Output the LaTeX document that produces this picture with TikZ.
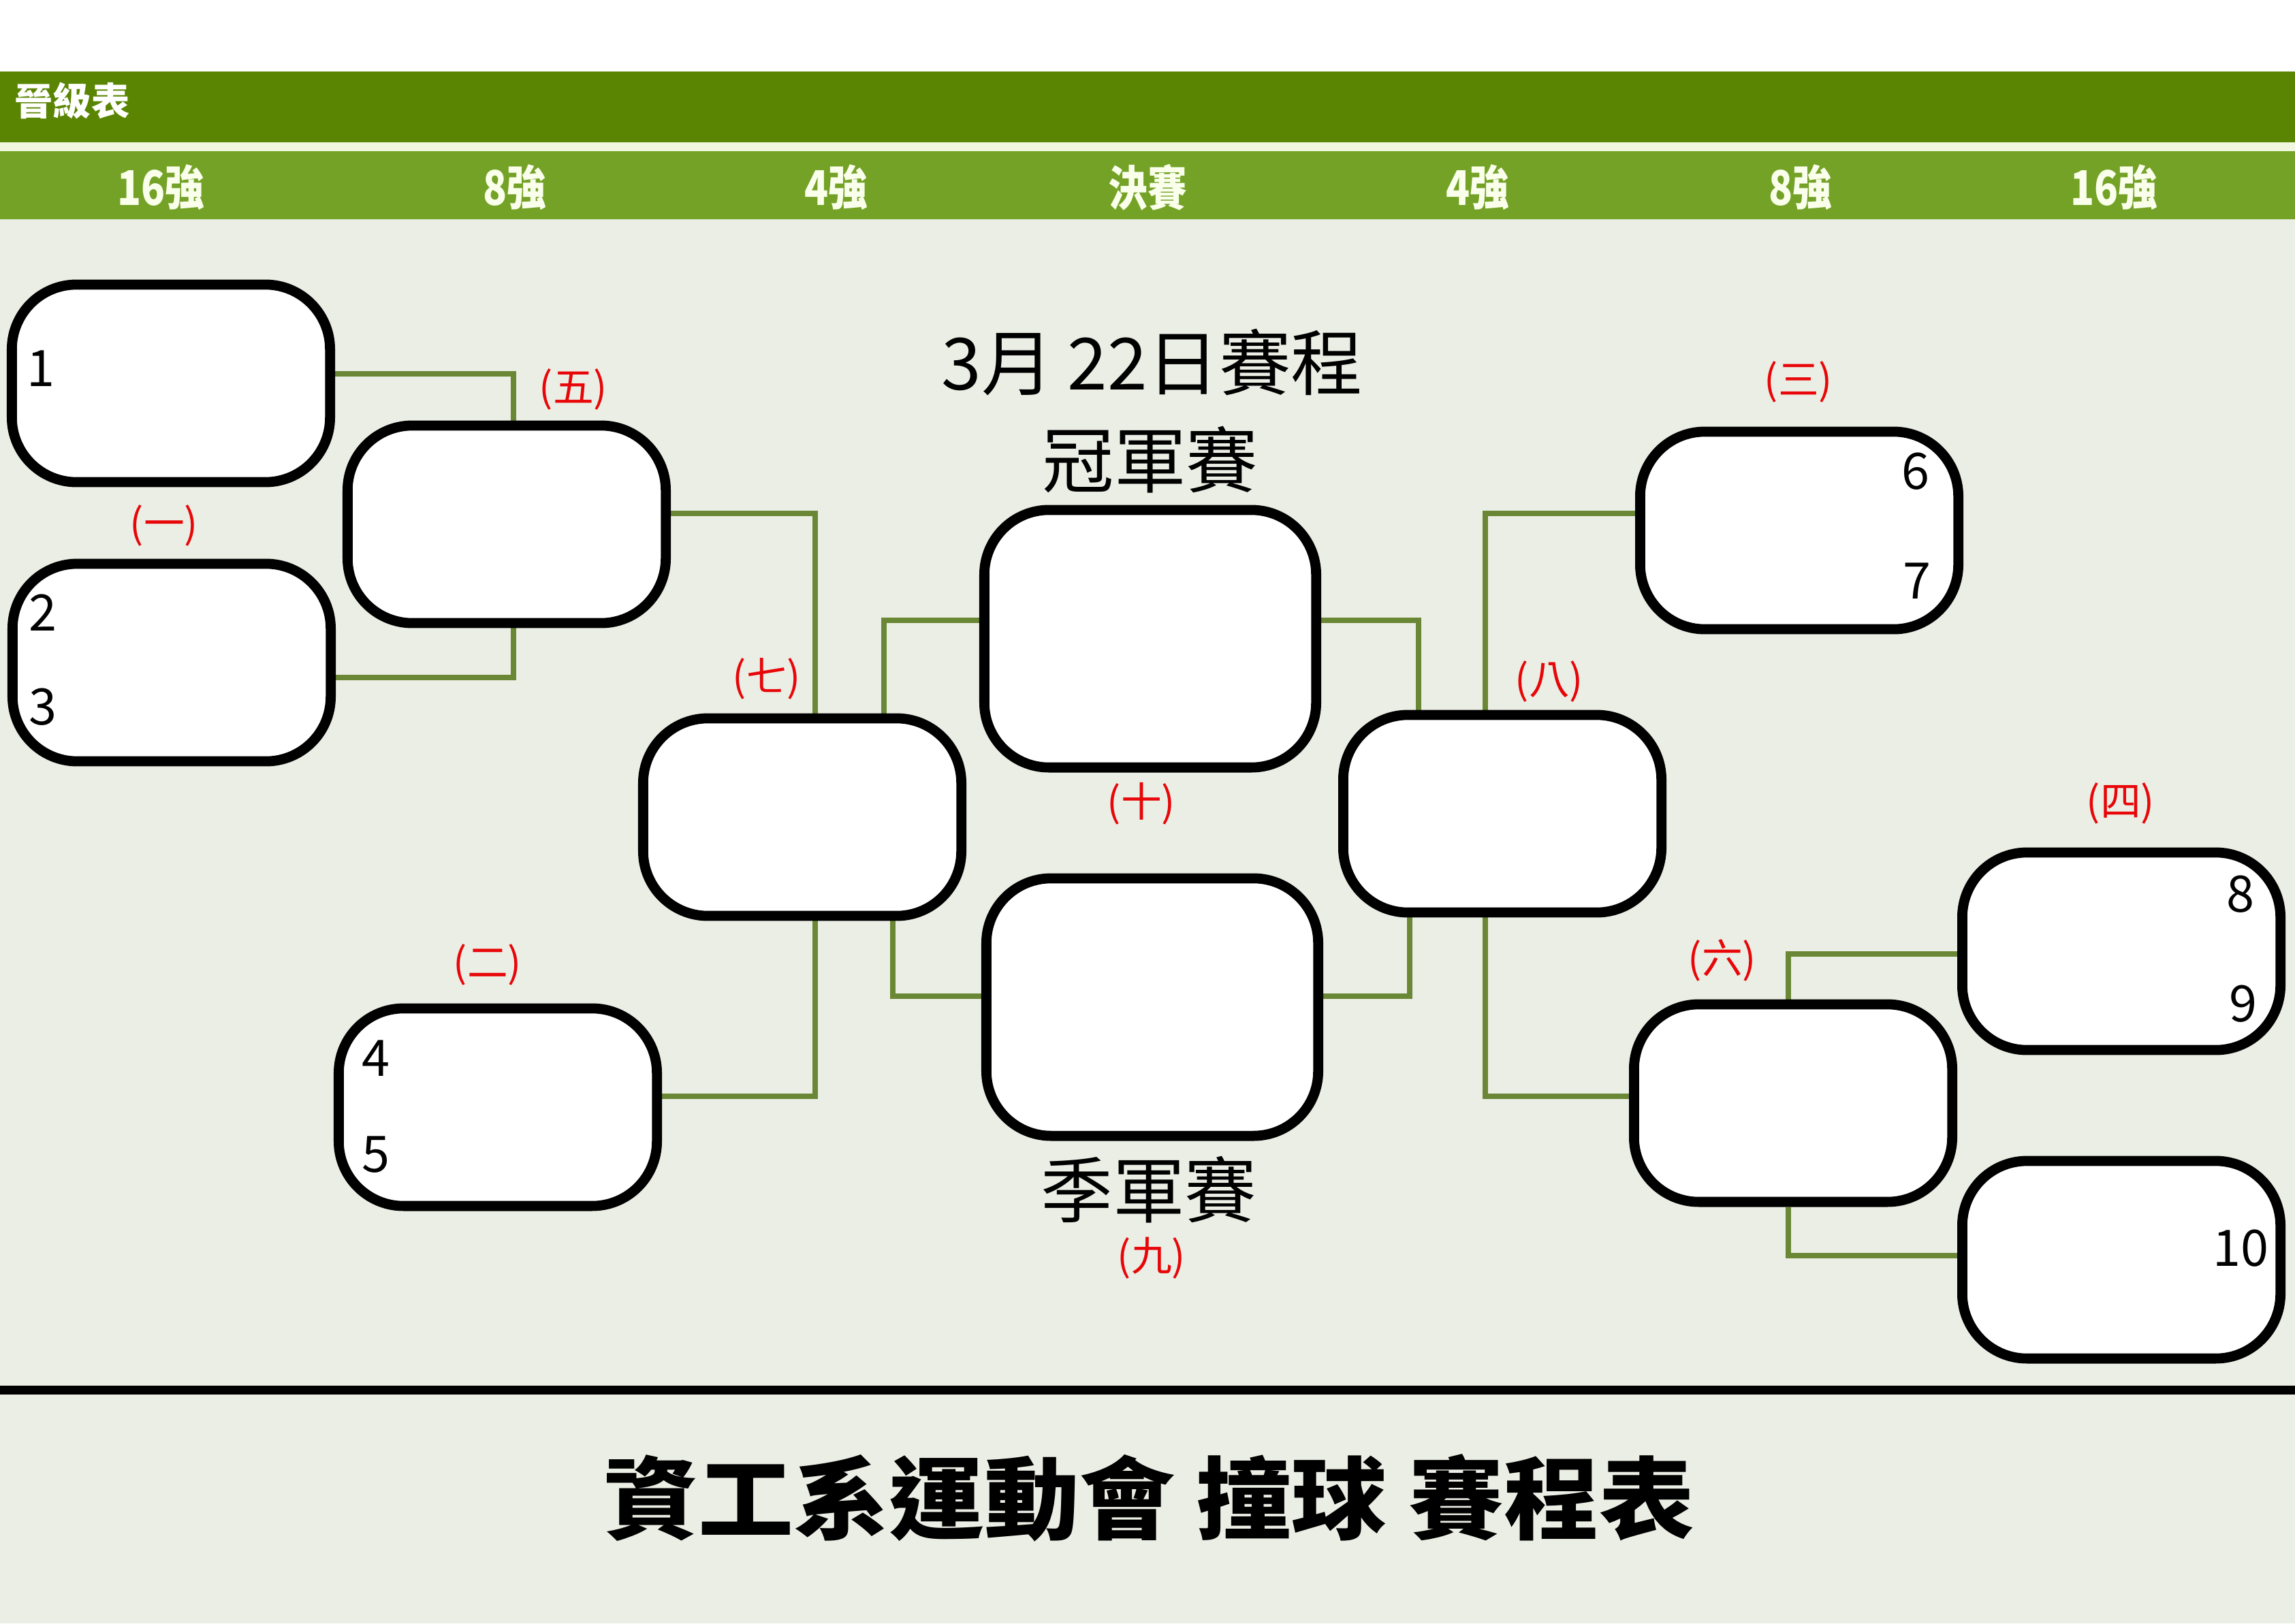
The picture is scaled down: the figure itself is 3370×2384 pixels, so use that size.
\documentclass[tikz,border=0pt]{standalone}
\usepackage{fontspec}
\usetikzlibrary{calc}
\newfontfamily\cjk{Noto Sans CJK TC}
\definecolor{pagebg}{RGB}{235,238,229}
\definecolor{barDark}{RGB}{90,133,2}
\definecolor{barLight}{RGB}{116,162,38}
\definecolor{barGap}{RGB}{240,247,222}
\definecolor{linkc}{RGB}{105,135,52}
\definecolor{tagred}{RGB}{232,6,8}
\definecolor{headtxt}{RGB}{250,255,236}
\pgfdeclarelayer{back}
\pgfsetlayers{back,main}
\tikzset{
  slot/.style={draw=black, fill=white, line width=4.2pt, rounded corners=0.95cm,
    inner sep=0pt, minimum width=4.67cm, minimum height=2.9cm},
  bigslot/.style={slot, minimum width=4.87cm, minimum height=3.78cm},
  link/.style={draw=linkc, line width=2.5pt},
  tag/.style={text=tagred, inner sep=0pt, font=\cjk\fontsize{17pt}{19pt}\selectfont},
  seed/.style={inner sep=0pt, font=\cjk\fontsize{21pt}{24pt}\selectfont},
  colhead/.style={text=headtxt, inner sep=0pt, xscale=0.82,
    font=\cjk\bfseries\fontsize{20pt}{22pt}\selectfont},
  heading/.style={inner sep=0pt, font=\cjk\fontsize{30pt}{34pt}\selectfont},
}
\begin{document}
\begin{tikzpicture}[x=0.01cm, y=-0.01cm]
\useasboundingbox (0,0) rectangle (3370,2384);

% header bars and page background
\begin{pgfonlayer}{back}
\fill[white] (0,0) rectangle (3370,105);
\fill[barDark] (0,105) rectangle (3370,209);
\fill[barGap] (0,209) rectangle (3370,222);
\fill[barLight] (0,222) rectangle (3370,322);
\fill[pagebg] (0,322) rectangle (3370,2384);
\end{pgfonlayer}

\node[text=white, inner sep=0pt, font=\cjk\bfseries\fontsize{16pt}{18pt}\selectfont] (tbl) at (106,148) {晉級表};
\node[colhead] (c1) at (236,275) {16強};
\node[colhead] (c2) at (756,275) {8強};
\node[colhead] (c3) at (1228,275) {4強};
\node[colhead] (c4) at (1685,275) {決賽};
\node[colhead] (c5) at (2170,275) {4強};
\node[colhead] (c6) at (2644,275) {8強};
\node[colhead] (c7) at (3104,275) {16強};

% bracket slots
\node[slot] (A) at (251,563) {};
\node[slot] (B) at (252,973) {};
\node[slot] (C) at (744,770) {};
\node[slot] (D) at (731,1626) {};
\node[slot] (E) at (1178,1200) {};
\node[bigslot] (F) at (1689,938) {};
\node[bigslot] (G) at (1692,1479) {};
\node[slot] (H) at (2206,1195) {};
\node[slot] (I) at (2642,779) {};
\node[slot] (J) at (2633,1620) {};
\node[slot] (K) at (3115,1397) {};
\node[slot] (L) at (3115,1850) {};

% connectors between rounds
\begin{pgfonlayer}{back}
\draw[link] ($(A.east)+(0,-14)$) -| ($(C.north)+(10,0)$);
\draw[link] ($(B.east)+(0,22)$) -| ($(C.south)+(10,0)$);
\draw[link] ($(C.east)+(0,-16)$) -| ($(E.north)+(19,0)$);
\draw[link] ($(D.east)+(0,-16)$) -| ($(E.south)+(19,0)$);
\draw[link] ($(E.north)+(120,0)$) |- ($(F.west)+(0,-27)$);
\draw[link] ($(E.south)+(133,0)$) |- ($(G.west)+(0,-16)$);
\draw[link] ($(F.east)+(0,-27)$) -| ($(H.north)+(-123,0)$);
\draw[link] ($(G.east)+(0,-16)$) -| ($(H.south)+(-136,0)$);
\draw[link] ($(H.north)+(-25,0)$) |- ($(I.west)+(0,-25)$);
\draw[link] ($(H.south)+(-25,0)$) |- ($(J.west)+(0,-10)$);
\draw[link] ($(J.north)+(-7,0)$) |- ($(K.west)+(0,4)$);
\draw[link] ($(J.south)+(-7,0)$) |- ($(L.west)+(0,-6)$);
\end{pgfonlayer}

% seed numbers
\node[seed] (n1) at (60,541) {1};
\node[seed] (n2) at (63,900) {2};
\node[seed] (n3) at (63,1038) {3};
\node[seed] (n4) at (552,1554) {4};
\node[seed] (n5) at (552,1696) {5};
\node[seed] (n6) at (2813,692) {6};
\node[seed] (n7) at (2815,853) {7};
\node[seed] (n8) at (3290,1313) {8};
\node[seed] (n9) at (3294,1474) {9};
\node[seed] (n10) at (3290,1833) {10};

% match numbers
\node[tag] (m1) at (241,772) {(一)};
\node[tag] (m2) at (716,1417) {(二)};
\node[tag] (m3) at (2641,561) {(三)};
\node[tag] (m4) at (3114,1180) {(四)};
\node[tag] (m5) at (842,572) {(五)};
\node[tag] (m6) at (2529,1410) {(六)};
\node[tag] (m7) at (1126,997) {(七)};
\node[tag] (m8) at (2275,1001) {(八)};
\node[tag] (m9) at (1691,1848) {(九)};
\node[tag] (m10) at (1676,1180) {(十)};

% headings
\node[heading] (date) at (1692,532) {3月\kern0.2em22日賽程};
\node[heading] (champ) at (1689,675) {冠軍賽};
\node[heading] (third) at (1687,1747) {季軍賽};

% footer
\coordinate (rl) at (0,2041);
\coordinate (rr) at (3370,2041);
\draw[line width=3.7pt] (rl) -- (rr);
\node[inner sep=0pt, xscale=1.06, font=\cjk\bfseries\fontsize{37.5pt}{40pt}\selectfont] (title) at (1687,2200) {資工系運動會 撞球 賽程表};
\end{tikzpicture}
\end{document}
